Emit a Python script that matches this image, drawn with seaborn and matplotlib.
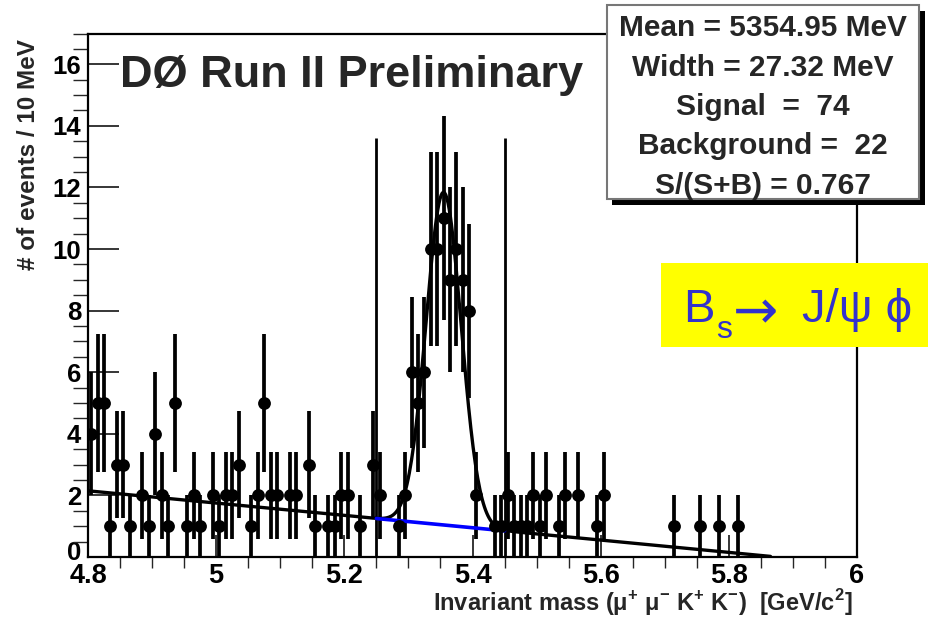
import numpy as np
import pandas as pd
import seaborn as sns
import matplotlib.pyplot as plt
import matplotlib.transforms as mtransforms
from matplotlib.patches import Rectangle
from matplotlib.ticker import MultipleLocator

# istogramma: eventi per bin da 10 MeV a partire da 4.80 GeV
bin_start = 4.80
bin_width = 0.01
counts = [4, 5, 5, 1, 3, 3, 1, 0, 2, 1, 4, 2, 1, 5, 0, 1, 2, 1, 0, 2,
          1, 2, 2, 3, 0, 1, 2, 5, 2, 2, 0, 2, 2, 0, 3, 1, 0, 1, 1, 2,
          2, 0, 1, 0, 3, 2, 0, 0, 1, 2, 6, 5, 6, 10, 10, 11, 9, 10, 9, 8,
          2, 0, 0, 1, 1, 2, 1, 1, 1, 2, 1, 2, 0, 1, 2, 0, 2, 0, 0, 1,
          2, 0, 0, 0, 0, 0, 0, 0, 0, 0, 0, 1, 0, 0, 0, 1, 0, 0, 1, 0,
          0, 1]

# parametri del fit (gaussiana + fondo lineare)
fit_mean = 5.35495
fit_sigma = 0.02732
fit_signal = 74
bkg_at_start = 2.15
bkg_slope = -2.0
fit_range = (4.80, 5.865)
signal_window = (5.25, 5.45)
window_height = 13.6

x_ticks = [4.8, 5.0, 5.2, 5.4, 5.6, 5.8, 6.0]
x_tick_labels = ['4.8', '5', '5.2', '5.4', '5.6', '5.8', '6']
y_ticks = [0, 2, 4, 6, 8, 10, 12, 14, 16]

stats_lines = ['Mean = 5354.95 MeV', 'Width = 27.32 MeV', 'Signal  =  74',
               'Background =  22', 'S/(S+B) = 0.767']

sns.set_theme(style='white')
plt.rcParams['font.family'] = ['Liberation Sans', 'DejaVu Sans']
plt.rcParams['font.weight'] = 'bold'
plt.rcParams['mathtext.fontset'] = 'custom'
plt.rcParams['mathtext.rm'] = 'Liberation Sans'
plt.rcParams['mathtext.bf'] = 'Liberation Sans:bold'


def fondo(x):
    return bkg_at_start + bkg_slope * (x - bin_start)


def modello(x):
    amp = fit_signal * bin_width / (fit_sigma * np.sqrt(2 * np.pi))
    return fondo(x) + amp * np.exp(-0.5 * ((x - fit_mean) / fit_sigma) ** 2)


df = pd.DataFrame({'counts': counts})
df['mass'] = bin_start + (df.index + 0.5) * bin_width
df = df[df['counts'] > 0]
df['err'] = np.sqrt(df['counts'])

x_fit = np.linspace(fit_range[0], fit_range[1], 600)
x_bkg = np.linspace(signal_window[0], signal_window[1], 50)

fig = plt.figure(figsize=(9.3, 6.18), dpi=100)
ax = fig.add_axes([88 / 930, 61 / 618, 769 / 930, 523.5 / 618])

ax.vlines(signal_window, 0, window_height, color='black', lw=2.0, zorder=2)
ax.vlines(df['mass'], df['counts'] - df['err'], df['counts'] + df['err'],
          color='black', lw=2.7, zorder=3)
sns.scatterplot(data=df, x='mass', y='counts', ax=ax, color='black', s=85,
                edgecolor='black', linewidth=0, zorder=5, legend=False)
sns.lineplot(x=x_fit, y=modello(x_fit), ax=ax, color='black', lw=2.4, zorder=4)
sns.lineplot(x=x_bkg, y=fondo(x_bkg), ax=ax, color='#0000ff', lw=2.6, zorder=4)

ax.set_xlim(4.8, 6.0)
ax.set_ylim(0, 17)
ax.xaxis.set_minor_locator(MultipleLocator(0.05))
ax.yaxis.set_minor_locator(MultipleLocator(0.5))
ax.set_xticks(x_ticks)
ax.set_xticklabels(x_tick_labels)
ax.set_yticks(y_ticks)
ax.set_yticklabels([str(v) for v in y_ticks])
ax.tick_params(axis='both', direction='in', colors='black', width=1.1)
ax.tick_params(axis='x', which='major', length=16, labelsize=19.5, pad=4)
ax.tick_params(axis='x', which='minor', length=8)
ax.tick_params(axis='y', which='major', length=22, labelsize=18.5, pad=5)
ax.tick_params(axis='y', which='minor', length=11)
ax.tick_params(bottom=True, left=True, which='both')
for spine in ax.spines.values():
    spine.set_color('black')
    spine.set_linewidth(1.6)

# lo "0" dell'asse y sta appena sopra il "4.8"
zero_label = ax.get_yticklabels()[0]
zero_label.set_transform(zero_label.get_transform() +
                         mtransforms.ScaledTranslation(0, 7 / 100, fig.dpi_scale_trans))

ax.set_xlabel('Invariant mass (μ$^{+}$ μ$^{-}$ K$^{+}$ K$^{-}$)  [GeV/c$^{\\mathbf{2}}$]',
              fontsize=17, fontweight='bold', loc='right')
ax.xaxis.set_label_coords(0.994, -0.058)
ax.set_ylabel('# of events / 10 MeV', fontsize=17.5, fontweight='bold', loc='top')
ax.yaxis.set_label_coords(-0.062, 0.99)

ax.text(120 / 930, 1 - 87 / 618, 'DØ Run II Preliminary', transform=fig.transFigure,
        fontsize=32.5, fontweight='bold', va='baseline', ha='left')

# riquadro statistiche con ombra
fig.patches.append(Rectangle((612 / 930, 1 - 205 / 618), 313 / 930, 194 / 618,
                             transform=fig.transFigure, facecolor='black',
                             edgecolor='none', zorder=10))
fig.patches.append(Rectangle((607 / 930, 1 - 199 / 618), 312 / 930, 194 / 618,
                             transform=fig.transFigure, facecolor='white',
                             edgecolor='#777777', lw=1.5, zorder=11))
for i, riga in enumerate(stats_lines):
    fig.text(763 / 930, 1 - (28 + 39.5 * i) / 618, riga, fontsize=21.5,
             fontweight='bold', ha='center', va='center', zorder=12)

# etichetta del decadimento
blu = '#3333cc'
fig.patches.append(Rectangle((661 / 930, 1 - 347 / 618), 267 / 930, 84 / 618,
                             transform=fig.transFigure, facecolor='#ffff00',
                             edgecolor='none', zorder=10))
fig.text(683 / 930, 1 - 322 / 618, 'B', fontsize=34, fontweight='normal',
         color=blu, ha='left', va='baseline', zorder=12)
fig.text(716 / 930, 1 - 338 / 618, 's', fontsize=23, fontweight='normal',
         color=blu, ha='left', va='baseline', zorder=12)
fig.text(733 / 930, 1 - 313 / 618, '→', fontsize=39, fontweight='normal',
         family='DejaVu Sans', color=blu, ha='left', va='center', zorder=12)
fig.text(802 / 930, 1 - 322 / 618, 'J/ψ ϕ', fontsize=34, fontweight='normal',
         color=blu, ha='left', va='baseline', zorder=12)

fig.savefig('out.png', dpi=100)
